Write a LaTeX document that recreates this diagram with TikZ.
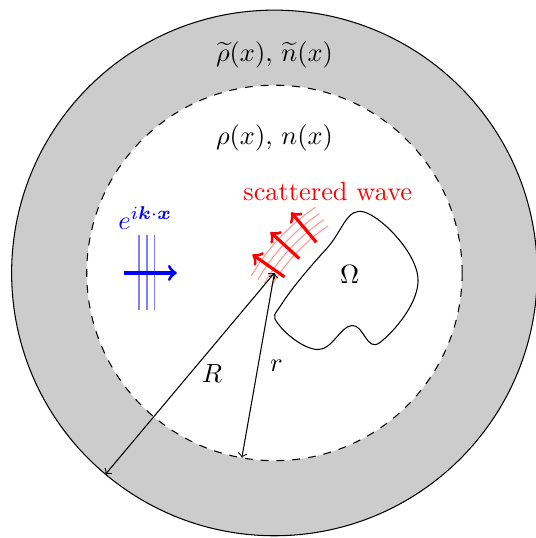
\documentclass[tikz,border=0pt]{standalone}
\usepackage{amsmath}
\usepackage{tikz}
\usetikzlibrary{positioning}

\begin{document}
\begin{tikzpicture}
    \tikzset{
      outer/.style={draw, fill=gray!40},
      inner/.style={draw, dashed, fill=white},
      planewave/.style={blue!50, semithick},
      incident/.style={blue, very thick, ->},
      scat/.style={red, very thick, ->},
      ripple/.style={red!40},
      dimarrow/.style={<->}
    }
    \useasboundingbox (-3.655,-3.53) rectangle (3.47,3.635);
    % regions
    \draw[outer] (0,0) circle (3.5);
    \draw[inner] (0,0) circle (2.5);
    \node (outlabel) at (0,2.9) {$\widetilde{\rho}(x),\, \widetilde{n}(x)$};
    \node (inlabel) at (0,1.8) {$\rho(x),\, n(x)$};
    % obstacle
    \draw plot[smooth cycle, tension=0.7] coordinates {
      (1.20,0.81) (1.91,-0.05) (1.40,-0.93)
      (1.03,-0.70) (0.58,-1.02) (0.05,-0.68) (0.12,-0.38) (0.70,0.33)};
    \node (omega) at (1.0,-0.02) {$\Omega$};
    % incident wave
    \node[blue] (kx) at (-1.72,0.73) {$e^{i\boldsymbol{k}\cdot\boldsymbol{x}}$};
    \foreach \x in {-1.8,-1.7,-1.6}
      \draw[planewave] (\x,-0.5) -- (\x,0.5);
    \coordinate (kin) at (-2,0);
    \coordinate (kout) at (-1.3,0);
    \draw[incident] (kin) -- (kout);
    % scattered wave
    \coordinate (C) at (2.1,-1.43);
    \foreach \r in {2.48,2.58,2.68,2.78}
      \draw[ripple] (C) ++(150:\r) arc[start angle=150, end angle=124, radius=\r];
    \foreach \a in {145,137.5,130}
      \draw[scat] (C) ++(\a:2.4) -- ++(\a:0.52);
    \node[red] (scatlabel) at (0.71,1.09) {scattered wave};
    % radii
    \coordinate (O) at (0,0);
    \coordinate (Rend) at (230:3.5);
    \coordinate (rend) at (260:2.5);
    \draw[dimarrow] (O) -- node[pos=0.5, right=1pt] {$R$} (Rend);
    \draw[dimarrow] (O) -- node[pos=0.5, right=1pt] {$r$} (rend);
  \end{tikzpicture}
\end{document}
